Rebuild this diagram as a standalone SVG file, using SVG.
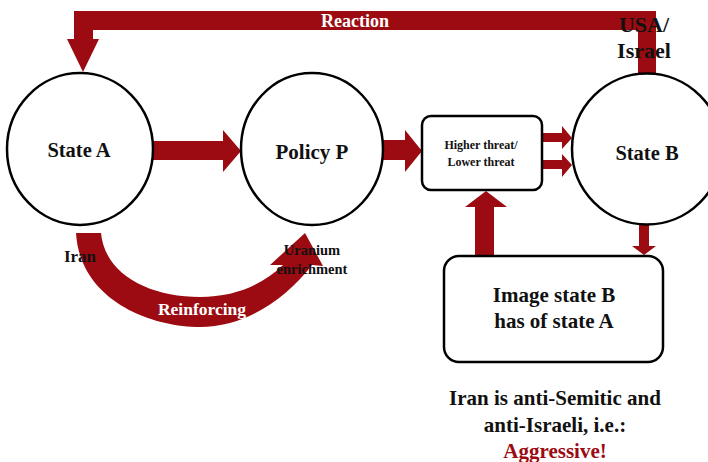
<svg xmlns="http://www.w3.org/2000/svg" width="708" height="462" viewBox="0 0 708 462">
<style>
text{font-family:"Liberation Serif","Times New Roman",serif;font-weight:bold;text-anchor:middle;fill:#111}
.w{fill:#fff}
.r{fill:#9c0b11}
.node{fill:#fff;stroke:#000;stroke-width:2.5}
</style>
<rect width="708" height="462" fill="#fff"/>
<g id="connectors" class="r">
  <!-- Reaction loop -->
  <path d="M638 73 L638 30 L93 30 L93 39 L99 39 L83 72 L67 39 L74 39 L74 11 L656 11 L656 73 Z"/>
  <!-- State A -> Policy P -->
  <path d="M152 141 L223 141 L223 130 L241 151 L223 172 L223 160 L152 160 Z"/>
  <!-- Policy P -> threat box -->
  <path d="M383 140 L405 140 L405 130 L422 151 L405 172 L405 160 L383 160 Z"/>
  <!-- threat box -> State B (two) -->
  <path d="M542 133 L562 133 L562 126 L572 138 L562 149 L562 142 L542 142 Z"/>
  <path d="M542 160 L562 160 L562 154 L572 165 L562 177 L562 169 L542 169 Z"/>
  <!-- State B -> Image -->
  <path d="M639 224 L649 224 L649 246 L656 246 L644 255 L632 246 L639 246 Z"/>
  <!-- Image -> threat box -->
  <path d="M475 258 L475 207 L465 207 L486 191 L507 207 L494 207 L494 258 Z"/>
  <!-- Reinforcing curved arrow -->
  <path d="M76 233 C80 300 150 327 200 327 C245 327 285 300 312 265 L323 266 L305 233 L270 265 L283 265 C262 285 235 297 200 297 C150 297 105 275 101 233 Z"/>
</g>
<g id="labels-connectors">
  <text class="w" x="355" y="27" font-size="18">Reaction</text>
  <text x="644" y="32" font-size="22">USA/</text>
  <text x="644" y="58" font-size="22">Israel</text>
  <text class="w" x="202" y="315" font-size="17.5">Reinforcing</text>
  <text x="80" y="262" font-size="17">Iran</text>
  <text x="312" y="255" font-size="14.5">Uranium</text>
  <text x="312" y="274" font-size="14.5">enrichment</text>
</g>
<g id="stateA">
  <ellipse class="node" cx="80" cy="149" rx="73" ry="76"/>
  <text x="79" y="157" font-size="20.5">State A</text>
</g>
<g id="policyP">
  <ellipse class="node" cx="312" cy="149" rx="71" ry="76"/>
  <text x="312" y="159" font-size="21">Policy P</text>
</g>
<g id="threat">
  <rect class="node" x="422" y="116" width="120" height="74" rx="9"/>
  <text x="481" y="149" font-size="12">Higher threat/</text>
  <text x="481" y="166" font-size="12">Lower threat</text>
</g>
<g id="stateB">
  <ellipse class="node" cx="647" cy="149" rx="75" ry="75.5"/>
  <text x="647" y="160" font-size="20.5">State B</text>
</g>
<g id="image">
  <rect class="node" x="444" y="256" width="219" height="106" rx="15"/>
  <text x="554" y="302" font-size="21">Image state B</text>
  <text x="554" y="328" font-size="21">has of state A</text>
</g>
<g id="note">
  <text x="555" y="405" font-size="21">Iran is anti-Semitic and</text>
  <text x="555" y="432" font-size="21">anti-Israeli, i.e.:</text>
  <text x="555" y="458" font-size="21" style="fill:#9c0b11">Aggressive!</text>
</g>
</svg>
